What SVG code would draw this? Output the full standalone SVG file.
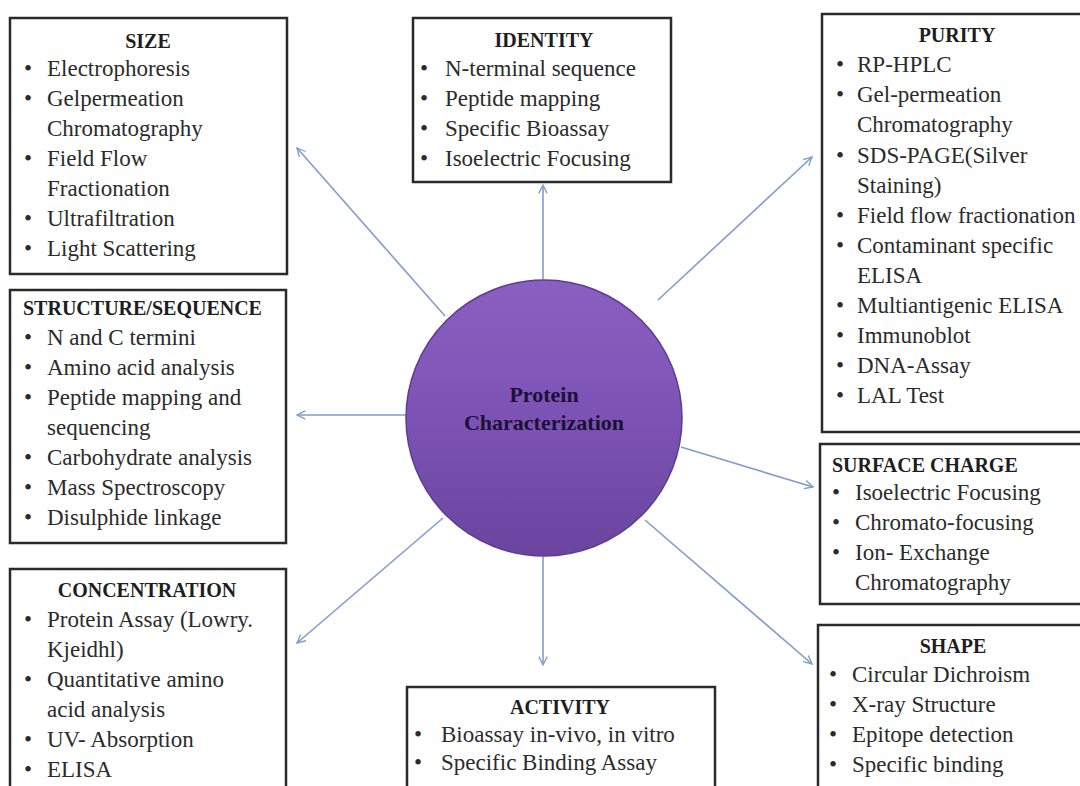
<svg xmlns="http://www.w3.org/2000/svg" width="1080" height="786" viewBox="0 0 1080 786">
  <defs>
    <style>
      .box { fill: #ffffff; stroke: #2a2a2a; stroke-width: 2.5; }
      .title { font-family: "Liberation Serif", "Times New Roman", serif; font-weight: bold; font-size: 20px; fill: #1e1e1e; }
      .item { font-family: "Liberation Serif", "Times New Roman", serif; font-size: 23px; fill: #2b2b2b; }
      .mid { text-anchor: middle; }
      .link { stroke: #7f9dce; stroke-width: 1.6; fill: none; marker-end: url(#open); }
      .hub { font-family: "Liberation Serif", "Times New Roman", serif; font-weight: bold; font-size: 22px; fill: #1c1038; text-anchor: middle; }
    </style>
    <marker id="open" viewBox="0 0 12 12" refX="11" refY="6" markerWidth="10" markerHeight="10" markerUnits="userSpaceOnUse" orient="auto">
      <path d="M1,1 L11,6 L1,11" fill="none" stroke="#7f9dce" stroke-width="1.6"/>
    </marker>
    <linearGradient id="hubFill" x1="0" y1="0" x2="0" y2="1">
      <stop offset="0" stop-color="#8a5fc1"/>
      <stop offset="0.5" stop-color="#7c53b4"/>
      <stop offset="1" stop-color="#6a449f"/>
    </linearGradient>
  </defs>

  <rect width="1080" height="786" fill="#ffffff"/>

  <!-- connectors from the hub to each category -->
  <g id="connectors">
    <line class="link" x1="445" y1="316" x2="297" y2="148"/>
    <line class="link" x1="543" y1="279" x2="543" y2="185"/>
    <line class="link" x1="658" y1="300" x2="812" y2="157"/>
    <line class="link" x1="406" y1="415" x2="297" y2="415"/>
    <line class="link" x1="681" y1="447" x2="813" y2="487"/>
    <line class="link" x1="443" y1="518" x2="297" y2="643"/>
    <line class="link" x1="543" y1="557" x2="543" y2="665"/>
    <line class="link" x1="645" y1="520" x2="812" y2="664"/>
  </g>

  <!-- central hub -->
  <g id="hub">
    <circle cx="544" cy="418" r="138" fill="url(#hubFill)" stroke="#5e3d90" stroke-width="1.5"/>
    <text class="hub" x="544" y="402">Protein</text>
    <text class="hub" x="544" y="430">Characterization</text>
  </g>

  <!-- SIZE -->
  <g id="size">
    <rect class="box" x="10" y="18" width="277" height="256"/>
    <text class="title mid" x="148" y="48">SIZE</text>
    <g class="item">
      <text x="24" y="76">•</text><text x="47" y="76">Electrophoresis</text>
      <text x="24" y="106">•</text><text x="47" y="106">Gelpermeation</text>
      <text x="47" y="136">Chromatography</text>
      <text x="24" y="166">•</text><text x="47" y="166">Field Flow</text>
      <text x="47" y="196">Fractionation</text>
      <text x="24" y="226">•</text><text x="47" y="226">Ultrafiltration</text>
      <text x="24" y="256">•</text><text x="47" y="256">Light Scattering</text>
    </g>
  </g>

  <!-- STRUCTURE/SEQUENCE -->
  <g id="structure">
    <rect class="box" x="10" y="290" width="276" height="253"/>
    <text class="title" x="23" y="315">STRUCTURE/SEQUENCE</text>
    <g class="item">
      <text x="24" y="345">•</text><text x="47" y="345">N and C termini</text>
      <text x="24" y="375">•</text><text x="47" y="375">Amino acid analysis</text>
      <text x="24" y="405">•</text><text x="47" y="405">Peptide mapping and</text>
      <text x="47" y="435">sequencing</text>
      <text x="24" y="465">•</text><text x="47" y="465">Carbohydrate analysis</text>
      <text x="24" y="495">•</text><text x="47" y="495">Mass Spectroscopy</text>
      <text x="24" y="525">•</text><text x="47" y="525">Disulphide linkage</text>
    </g>
  </g>

  <!-- CONCENTRATION -->
  <g id="concentration">
    <rect class="box" x="10" y="569" width="276" height="230"/>
    <text class="title mid" x="147" y="597">CONCENTRATION</text>
    <g class="item">
      <text x="24" y="627">•</text><text x="47" y="627">Protein Assay (Lowry.</text>
      <text x="47" y="657">Kjeidhl)</text>
      <text x="24" y="687">•</text><text x="47" y="687">Quantitative amino</text>
      <text x="47" y="717">acid analysis</text>
      <text x="24" y="747">•</text><text x="47" y="747">UV- Absorption</text>
      <text x="24" y="777">•</text><text x="47" y="777">ELISA</text>
    </g>
  </g>

  <!-- IDENTITY -->
  <g id="identity">
    <rect class="box" x="413" y="18" width="258" height="164"/>
    <text class="title mid" x="544" y="47">IDENTITY</text>
    <g class="item">
      <text x="420" y="76">•</text><text x="445" y="76">N-terminal sequence</text>
      <text x="420" y="106">•</text><text x="445" y="106">Peptide mapping</text>
      <text x="420" y="136">•</text><text x="445" y="136">Specific Bioassay</text>
      <text x="420" y="166">•</text><text x="445" y="166">Isoelectric Focusing</text>
    </g>
  </g>

  <!-- PURITY -->
  <g id="purity">
    <rect class="box" x="822" y="14" width="270" height="418"/>
    <text class="title mid" x="957" y="42">PURITY</text>
    <g class="item">
      <text x="836" y="72">•</text><text x="857" y="72">RP-HPLC</text>
      <text x="836" y="102">•</text><text x="857" y="102">Gel-permeation</text>
      <text x="857" y="132">Chromatography</text>
      <text x="836" y="163">•</text><text x="857" y="163">SDS-PAGE(Silver</text>
      <text x="857" y="193">Staining)</text>
      <text x="836" y="223">•</text><text x="857" y="223">Field flow fractionation</text>
      <text x="836" y="253">•</text><text x="857" y="253">Contaminant specific</text>
      <text x="857" y="283">ELISA</text>
      <text x="836" y="313">•</text><text x="857" y="313">Multiantigenic ELISA</text>
      <text x="836" y="343">•</text><text x="857" y="343">Immunoblot</text>
      <text x="836" y="373">•</text><text x="857" y="373">DNA-Assay</text>
      <text x="836" y="403">•</text><text x="857" y="403">LAL Test</text>
    </g>
  </g>

  <!-- SURFACE CHARGE -->
  <g id="surface-charge">
    <rect class="box" x="820" y="444" width="270" height="160"/>
    <text class="title" x="832" y="472">SURFACE CHARGE</text>
    <g class="item">
      <text x="832" y="500">•</text><text x="855" y="500">Isoelectric Focusing</text>
      <text x="832" y="530">•</text><text x="855" y="530">Chromato-focusing</text>
      <text x="832" y="560">•</text><text x="855" y="560">Ion- Exchange</text>
      <text x="855" y="590">Chromatography</text>
    </g>
  </g>

  <!-- SHAPE -->
  <g id="shape">
    <rect class="box" x="818" y="625" width="272" height="180"/>
    <text class="title mid" x="953" y="653">SHAPE</text>
    <g class="item">
      <text x="829" y="682">•</text><text x="852" y="682">Circular Dichroism</text>
      <text x="829" y="712">•</text><text x="852" y="712">X-ray Structure</text>
      <text x="829" y="742">•</text><text x="852" y="742">Epitope detection</text>
      <text x="829" y="772">•</text><text x="852" y="772">Specific binding</text>
    </g>
  </g>

  <!-- ACTIVITY -->
  <g id="activity">
    <rect class="box" x="407" y="687" width="308" height="120"/>
    <text class="title mid" x="560" y="714">ACTIVITY</text>
    <g class="item">
      <text x="414" y="742">•</text><text x="441" y="742">Bioassay in-vivo, in vitro</text>
      <text x="414" y="770">•</text><text x="441" y="770">Specific Binding Assay</text>
    </g>
  </g>
</svg>
